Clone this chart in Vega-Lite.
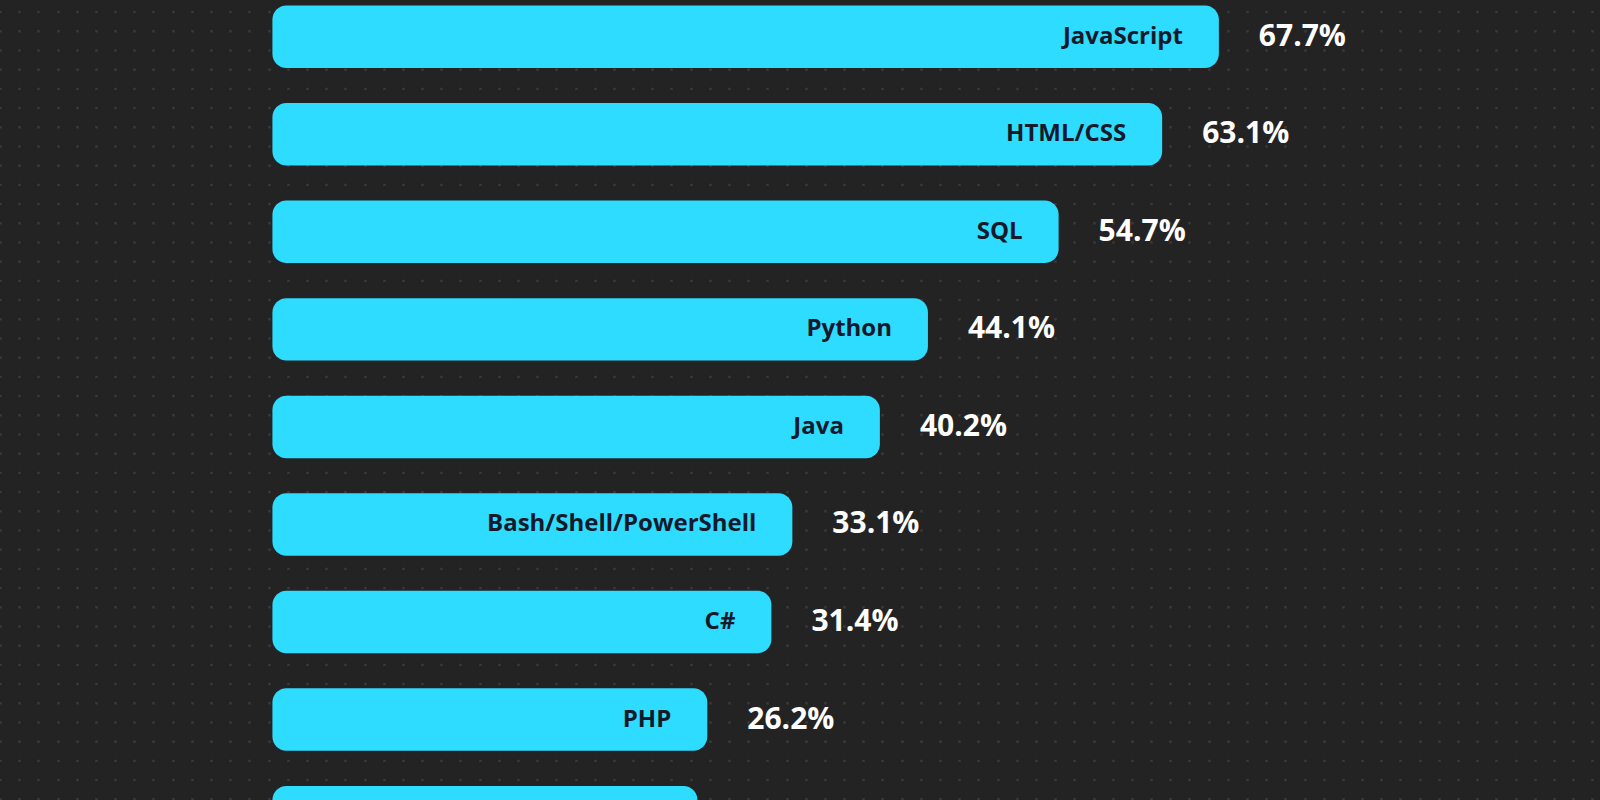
{
  "$schema": "https://vega.github.io/schema/vega-lite/v6.json",
  "width": 1600,
  "height": 800,
  "autosize": {"type": "none"},
  "padding": 0,
  "background": "#232323",
  "config": {"view": {"stroke": null}},
  "data": {
    "values": [
      {"lang": "JavaScript", "pct": 67.7, "label": "67.7%"},
      {"lang": "HTML/CSS", "pct": 63.1, "label": "63.1%"},
      {"lang": "SQL", "pct": 54.7, "label": "54.7%"},
      {"lang": "Python", "pct": 44.1, "label": "44.1%"},
      {"lang": "Java", "pct": 40.2, "label": "40.2%"},
      {"lang": "Bash/Shell/PowerShell", "pct": 33.1, "label": "33.1%"},
      {"lang": "C#", "pct": 31.4, "label": "31.4%"},
      {"lang": "PHP", "pct": 26.2, "label": "26.2%"},
      {"lang": "TypeScript", "pct": 25.4, "label": "25.4%"}
    ]
  },
  "resolve": {"scale": {"x": "independent"}, "axis": {"x": "independent"}},
  "layer": [
    {
      "mark": {"type": "rule", "opacity": 0},
      "encoding": {
        "x": {
          "datum": 0,
          "type": "quantitative",
          "scale": {"domain": [0, 83.4], "nice": false, "zero": false},
          "axis": {
            "grid": true,
            "gridColor": "#3a3a3a",
            "gridWidth": 2.4,
            "gridDash": [2.4, 16.8],
            "gridDashOffset": 0,
            "tickCount": 83,
            "labels": false,
            "ticks": false,
            "domain": false,
            "title": null
          }
        }
      }
    },
    {
      "encoding": {
        "y": {
          "field": "lang",
          "type": "nominal",
          "sort": {"field": "pct", "order": "descending"},
          "scale": {"domain": ["JavaScript", "HTML/CSS", "SQL", "Python", "Java", "Bash/Shell/PowerShell", "C#", "PHP", "TypeScript"], "range": [-12.05, 865.9], "paddingInner": 0.36, "paddingOuter": 0.18},
          "axis": null
        },
        "x": {
          "field": "pct",
          "type": "quantitative",
          "scale": {"domain": [-31.18, 98.62], "nice": false, "zero": false},
          "axis": null
        }
      },
      "layer": [
        {
          "mark": {"type": "bar", "color": "#2ddcff", "cornerRadius": 14},
          "encoding": {"x2": {"datum": -9.08}}
        },
        {
          "transform": [{"filter": "datum.lang !== 'TypeScript'"}],
          "mark": {"type": "text", "align": "right", "baseline": "middle", "dx": -36, "font": "Open Sans", "fontWeight": 700, "fontSize": 24, "color": "#15192a"},
          "encoding": {"text": {"field": "lang"}}
        },
        {
          "transform": [{"filter": "datum.lang !== 'TypeScript'"}],
          "mark": {"type": "text", "align": "left", "baseline": "middle", "dx": 40, "font": "Open Sans", "fontWeight": 700, "fontSize": 30, "color": "#ffffff"},
          "encoding": {"text": {"field": "label"}}
        }
      ]
    }
  ]
}
